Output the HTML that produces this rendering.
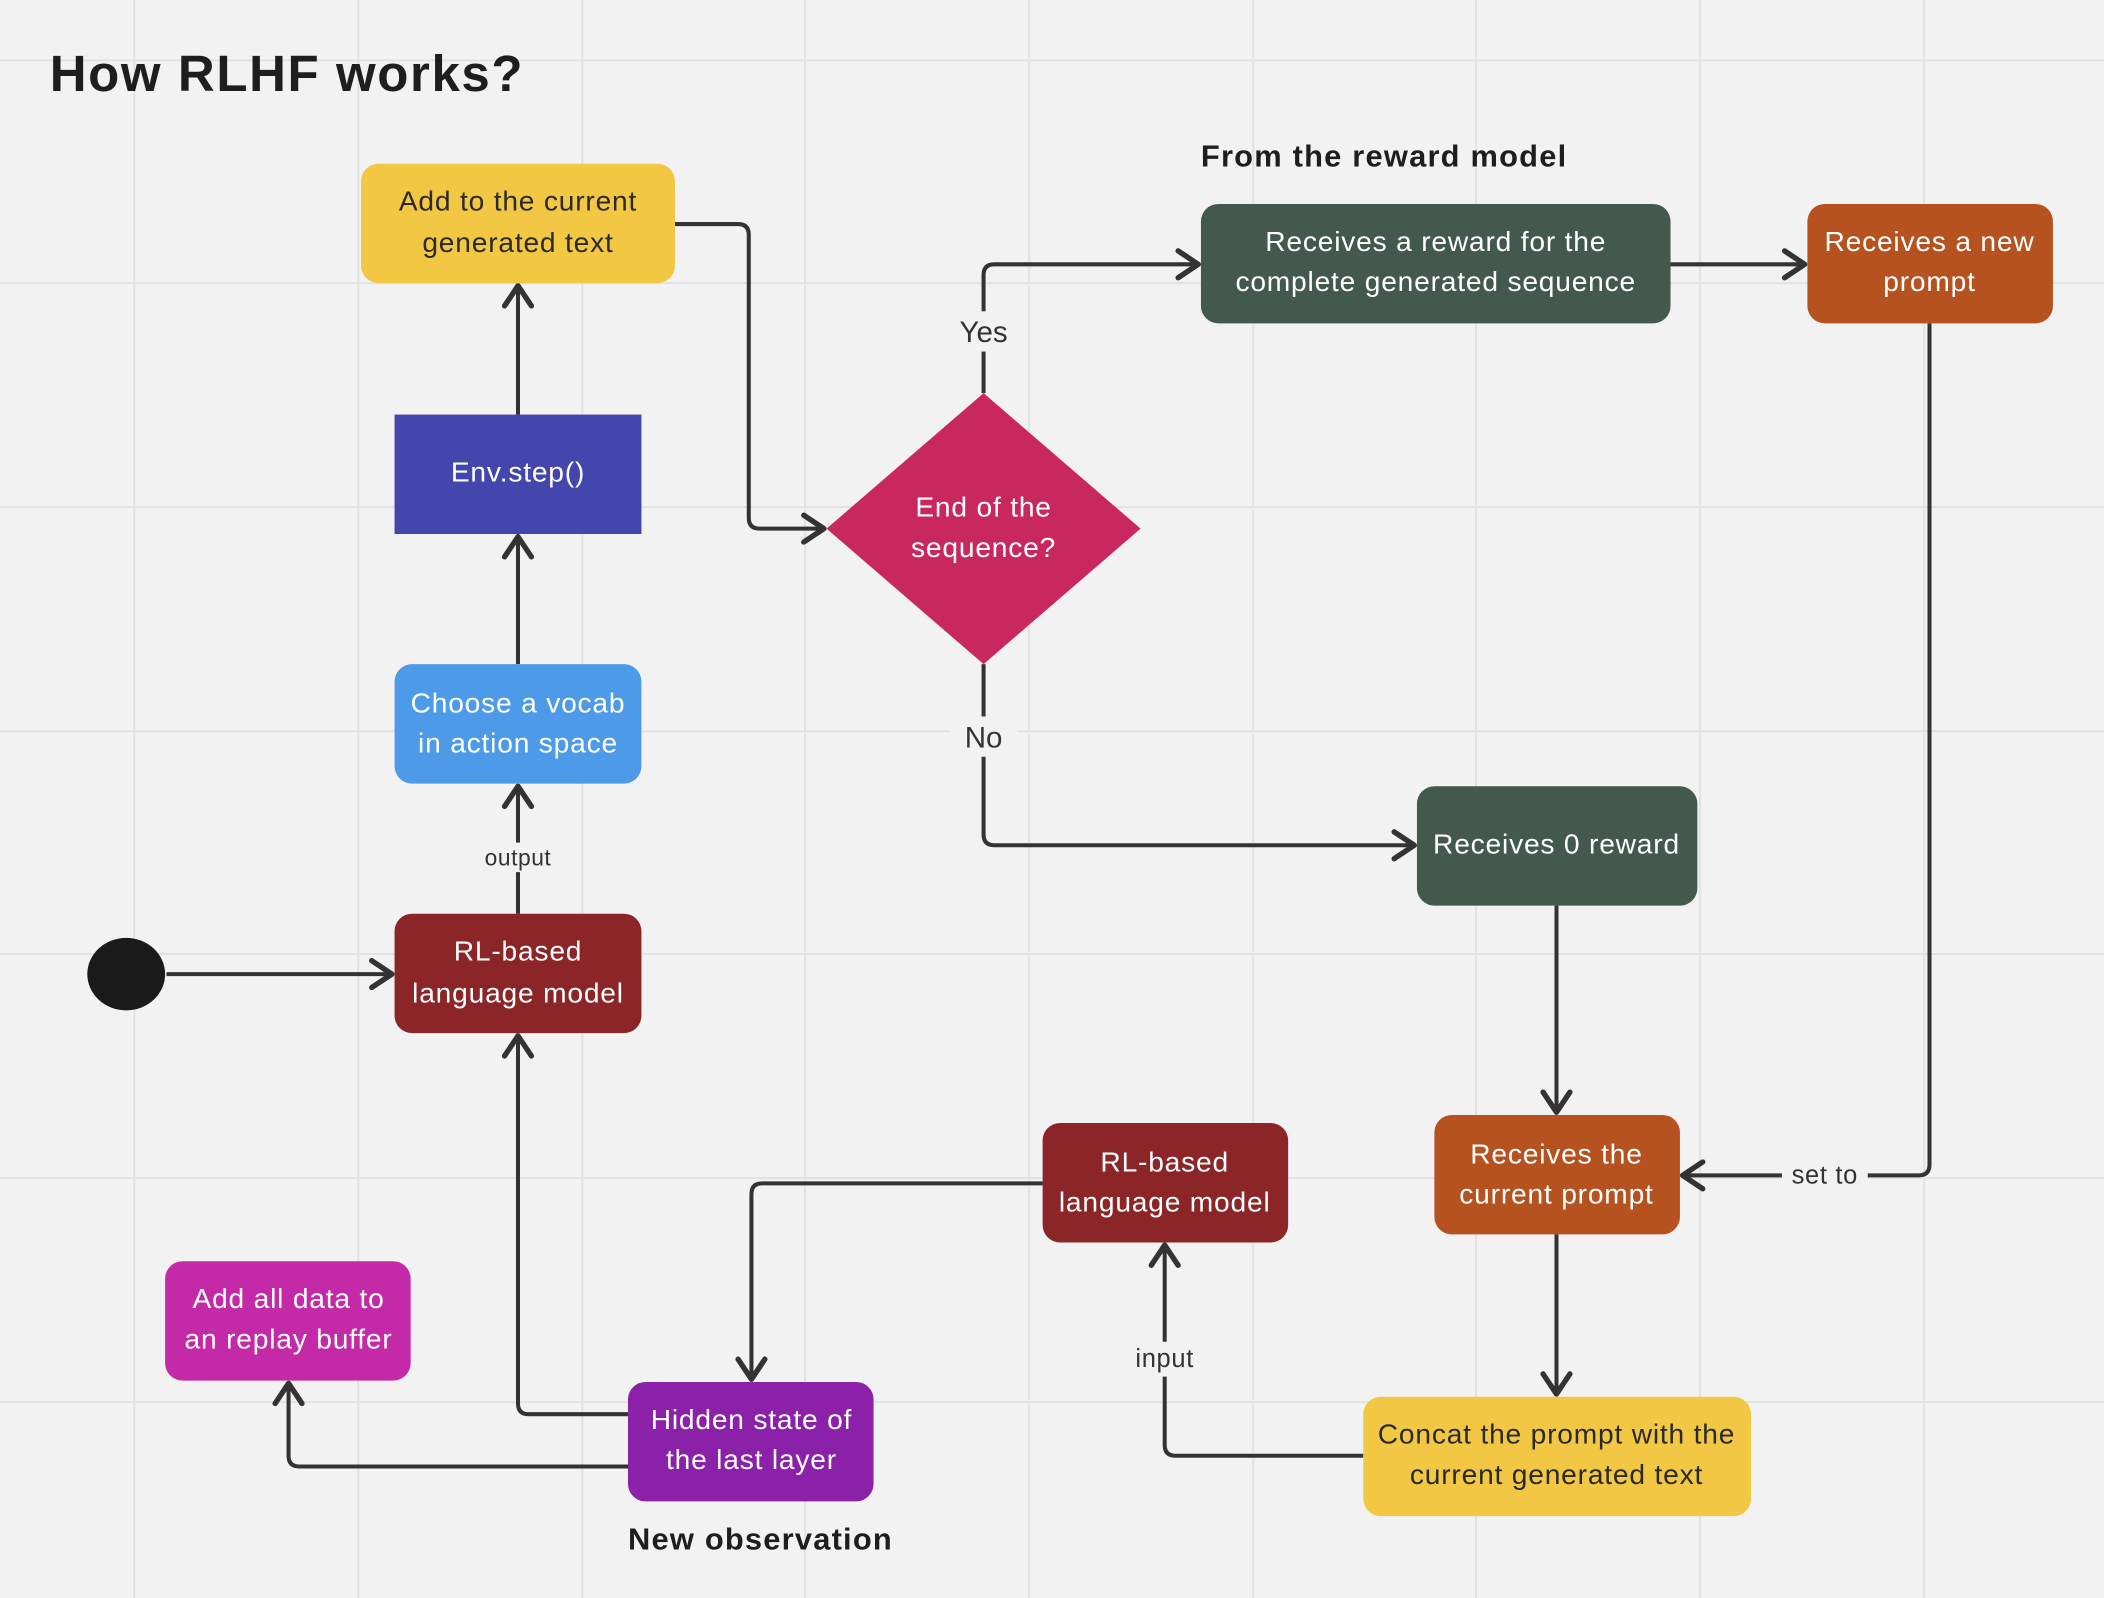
<!DOCTYPE html>
<html><head><meta charset="utf-8"><style>
html,body{margin:0;padding:0;background:#f2f2f2;}
svg{display:block;}
text{font-family:"Liberation Sans",sans-serif;}
</style></head><body>
<svg width="2104" height="1598" viewBox="0 0 1568 1191" xmlns="http://www.w3.org/2000/svg">
<defs>
<marker id="a" viewBox="0 0 24 24" refX="21" refY="12" markerWidth="24" markerHeight="24" markerUnits="userSpaceOnUse" orient="auto">
<path d="M6,2 L21,12 L6,22" fill="none" stroke="#333" stroke-width="4" stroke-linecap="round" stroke-linejoin="round"/>
</marker>
</defs>
<rect width="1568" height="1191" fill="#f2f2f2"/>
<g stroke="#e2e2e2" stroke-width="1.5">
<line x1="100" y1="0" x2="100" y2="1191"/><line x1="267" y1="0" x2="267" y2="1191"/><line x1="434" y1="0" x2="434" y2="1191"/><line x1="600" y1="0" x2="600" y2="1191"/><line x1="767" y1="0" x2="767" y2="1191"/><line x1="934" y1="0" x2="934" y2="1191"/><line x1="1100" y1="0" x2="1100" y2="1191"/><line x1="1267" y1="0" x2="1267" y2="1191"/><line x1="1434" y1="0" x2="1434" y2="1191"/>
<line x1="0" y1="45" x2="1568" y2="45"/><line x1="0" y1="211" x2="1568" y2="211"/><line x1="0" y1="378" x2="1568" y2="378"/><line x1="0" y1="545" x2="1568" y2="545"/><line x1="0" y1="711" x2="1568" y2="711"/><line x1="0" y1="878" x2="1568" y2="878"/><line x1="0" y1="1045" x2="1568" y2="1045"/>
</g>
<text x="37" y="68" font-size="38" font-weight="bold" fill="#1e1e1e" letter-spacing="1.2">How RLHF works?</text>
<text x="895" y="124" font-size="23" font-weight="bold" fill="#1e1e1e" letter-spacing="0.9">From the reward model</text>
<text x="468" y="1155" font-size="23" font-weight="bold" fill="#1e1e1e" letter-spacing="0.9">New observation</text>

<g fill="none" stroke="#333" stroke-width="3" stroke-linejoin="round">
<path d="M124,726 H292" marker-end="url(#a)"/>
<path d="M386,681 V586" marker-end="url(#a)"/>
<path d="M386,495 V400" marker-end="url(#a)"/>
<path d="M386,309 V213" marker-end="url(#a)"/>
<path d="M503,167 H550 Q558,167 558,175 V386 Q558,394 566,394 H614" marker-end="url(#a)"/>
<path d="M733,293 V205 Q733,197 741,197 H893" marker-end="url(#a)"/>
<path d="M733,495 V622 Q733,630 741,630 H1054" marker-end="url(#a)"/>
<path d="M1245,197 H1345" marker-end="url(#a)"/>
<path d="M1438,241 V868 Q1438,876 1430,876 H1254" marker-end="url(#a)"/>
<path d="M1160,675 V829" marker-end="url(#a)"/>
<path d="M1160,920 V1039" marker-end="url(#a)"/>
<path d="M1016,1085 H876 Q868,1085 868,1077 V928" marker-end="url(#a)"/>
<path d="M777,882 H568 Q560,882 560,890 V1028" marker-end="url(#a)"/>
<path d="M468,1054 H394 Q386,1054 386,1046 V772" marker-end="url(#a)"/>
<path d="M468,1093 H223 Q215,1093 215,1085 V1031" marker-end="url(#a)"/>
</g>
<rect x="356" y="628" width="60" height="22" fill="#f2f2f2"/>
<text x="386" y="645" font-size="17" fill="#333" text-anchor="middle" letter-spacing="0.4">output</text>
<rect x="708" y="232" width="50" height="30" fill="#f2f2f2"/>
<text x="733" y="255" font-size="22" fill="#333" text-anchor="middle">Yes</text>
<rect x="708" y="534" width="50" height="30" fill="#f2f2f2"/>
<text x="733" y="557" font-size="22" fill="#333" text-anchor="middle">No</text>
<rect x="1328" y="863" width="64" height="26" fill="#f2f2f2"/>
<text x="1360" y="882" font-size="19" fill="#333" text-anchor="middle" letter-spacing="0.5">set to</text>
<rect x="840" y="1000" width="56" height="26" fill="#f2f2f2"/>
<text x="868" y="1019" font-size="19" fill="#333" text-anchor="middle" letter-spacing="0.5">input</text>

<ellipse cx="94" cy="726" rx="29" ry="27" fill="#1a1a1a"/>

<g font-size="21" text-anchor="middle" letter-spacing="0.6">
<rect x="269" y="122" width="234" height="89" rx="13" fill="#f2c744"/>
<text x="386" y="157" fill="#2a2a2a">Add to the current</text><text x="386" y="188" fill="#2a2a2a">generated text</text>
<rect x="294" y="309" width="184" height="89" fill="#4347ad"/>
<text x="386" y="359" fill="#fff">Env.step()</text>
<rect x="294" y="495" width="184" height="89" rx="13" fill="#4d9ae8"/>
<text x="386" y="531" fill="#fff">Choose a vocab</text><text x="386" y="561" fill="#fff">in action space</text>
<rect x="294" y="681" width="184" height="89" rx="13" fill="#8b2527"/>
<text x="386" y="716" fill="#fff">RL-based</text><text x="386" y="747" fill="#fff">language model</text>
<polygon points="733,293 850,394 733,495 616,394" fill="#c9285f"/>
<text x="733" y="385" fill="#fff">End of the</text><text x="733" y="415" fill="#fff">sequence?</text>
<rect x="895" y="152" width="350" height="89" rx="13" fill="#44594d"/>
<text x="1070" y="187" fill="#fff">Receives a reward for the</text><text x="1070" y="217" fill="#fff">complete generated sequence</text>
<rect x="1347" y="152" width="183" height="89" rx="13" fill="#b5521f"/>
<text x="1438" y="187" fill="#fff">Receives a new</text><text x="1438" y="217" fill="#fff">prompt</text>
<rect x="1056" y="586" width="209" height="89" rx="13" fill="#44594d"/>
<text x="1160" y="636" fill="#fff">Receives 0 reward</text>
<rect x="1069" y="831" width="183" height="89" rx="13" fill="#b5521f"/>
<text x="1160" y="867" fill="#fff">Receives the</text><text x="1160" y="897" fill="#fff">current prompt</text>
<rect x="777" y="837" width="183" height="89" rx="13" fill="#8b2527"/>
<text x="868" y="873" fill="#fff">RL-based</text><text x="868" y="903" fill="#fff">language model</text>
<rect x="1016" y="1041" width="289" height="89" rx="13" fill="#f2c744"/>
<text x="1160" y="1076" fill="#2a2a2a">Concat the prompt with the</text><text x="1160" y="1106" fill="#2a2a2a">current generated text</text>
<rect x="468" y="1030" width="183" height="89" rx="13" fill="#8a21a8"/>
<text x="560" y="1065" fill="#fff">Hidden state of</text><text x="560" y="1095" fill="#fff">the last layer</text>
<rect x="123" y="940" width="183" height="89" rx="13" fill="#c42aa8"/>
<text x="215" y="975" fill="#fff">Add all data to</text><text x="215" y="1005" fill="#fff">an replay buffer</text>
</g>
</svg>
</body></html>
